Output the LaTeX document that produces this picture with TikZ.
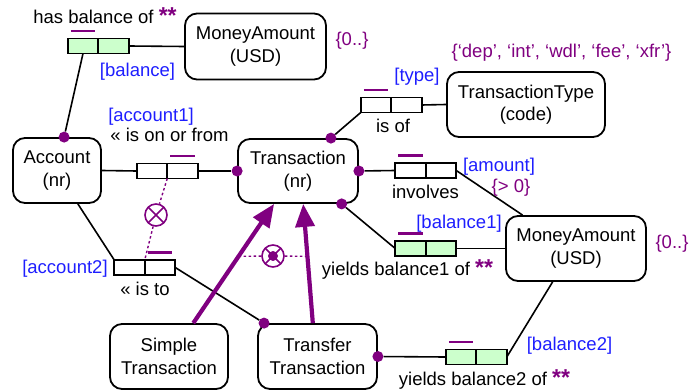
\documentclass[tikz,border=0pt]{standalone}
\usepackage{fontspec}
\setmainfont{Liberation Sans}
\usetikzlibrary{positioning,arrows.meta}

\definecolor{ormpurple}{RGB}{128,0,128}
\definecolor{ormblue}{RGB}{30,30,255}
\definecolor{rolegreen}{RGB}{204,255,204}

% uniqueness bar over one role box
\newcommand{\uniq}[1]{\draw[ubar] ([xshift=3pt,yshift=7.5pt]#1.north west) -- ([xshift=-3pt,yshift=7.5pt]#1.north east);}
% purple double asterisk
\newcommand{\stars}{\textcolor{ormpurple}{\fontsize{23}{22}\selectfont\textbf{**}}}

\begin{document}
\begin{tikzpicture}[x=1pt,y=-1pt,
    font=\fontsize{18.5}{22.5}\selectfont,
    entity/.style = {draw, rounded corners=12pt, line width=1.8pt, align=center, inner sep=0pt},
    role/.style = {draw, line width=1.7pt, minimum width=30.5pt, minimum height=15pt, inner sep=0pt, outer sep=0pt},
    vrole/.style = {role, fill=rolegreen},
    rdot/.style = {circle, fill=ormpurple, minimum size=11pt, inner sep=0pt},
    ubar/.style = {ormpurple, line width=2.2pt},
    link/.style = {line width=1.6pt},
    xlink/.style = {ormpurple, line width=1.4pt, dash pattern=on 2.5pt off 2.5pt},
    lbl/.style = {anchor=base, inner sep=0pt},
    rname/.style = {lbl, text=ormblue},
    cons/.style = {lbl, text=ormpurple},
    subtype/.style = {ormpurple, line width=4.2pt, -{Triangle[length=23pt,width=19pt]}},
    exclusion/.style = {circle, draw=ormpurple, fill=white, line width=1.6pt, minimum size=22pt, inner sep=0pt,
        path picture={\draw[ormpurple,line width=1.6pt] (path picture bounding box.north west) -- (path picture bounding box.south east)
            (path picture bounding box.north east) -- (path picture bounding box.south west);}},
    exclusiveor/.style = {circle, draw=ormpurple, fill=white, line width=1.6pt, minimum size=22pt, inner sep=0pt,
        path picture={\draw[ormpurple,line width=1.6pt] (path picture bounding box.north west) -- (path picture bounding box.south east)
            (path picture bounding box.north east) -- (path picture bounding box.south west);
            \fill[ormpurple] (path picture bounding box.center) circle (5pt);}}]

\useasboundingbox (0,0) rectangle (692,390);

% object types
\node[entity, minimum width=141pt, minimum height=66pt] (moneyA) at (255.5,46.5) {MoneyAmount\\(USD)};
\node[entity, minimum width=158pt, minimum height=65pt] (ttype) at (526,104.5) {TransactionType\\(code)};
\node[entity, minimum width=88pt, minimum height=65pt] (acc) at (57,170.5) {Account\\(nr)};
\node[entity, minimum width=120pt, minimum height=64pt] (trans) at (298,171) {Transaction\\(nr)};
\node[entity, minimum width=140pt, minimum height=65pt] (moneyB) at (576,248.5) {MoneyAmount\\(USD)};
\node[entity, minimum width=118pt, minimum height=65pt] (simple) at (169,356.5) {Simple\\Transaction};
\node[entity, minimum width=119pt, minimum height=65pt] (transfer) at (317.5,356.5) {Transfer\\Transaction};

% fact types
\node[vrole] (hb1) at (83,46) {};
\node[vrole, right=0pt of hb1] (hb2) {};
\node[role] (hf1) at (152,171) {};
\node[role, right=0pt of hf1] (hf2) {};
\node[role] (it1) at (129.5,267.5) {};
\node[role, right=0pt of it1] (it2) {};
\node[role] (io1) at (376,105) {};
\node[role, right=0pt of io1] (io2) {};
\node[role] (iv1) at (410.5,170.5) {};
\node[role, right=0pt of iv1] (iv2) {};
\node[vrole] (yb1) at (410.5,248.5) {};
\node[vrole, right=0pt of yb1] (yb2) {};
\node[vrole] (yc1) at (461,357) {};
\node[vrole, right=0pt of yc1] (yc2) {};

\uniq{hb1} \uniq{hf2} \uniq{it2} \uniq{io1} \uniq{iv1} \uniq{yb1} \uniq{yc1}

% mandatory dots
\node[rdot] (dAcc) at (acc.78) {};
\node[rdot] (dTransL) at (trans.west) {};
\node[rdot] (dTransT) at (trans.45) {};
\node[rdot] (dTransR) at (trans.east) {};
\node[rdot] (dTransB) at (trans.-37) {};
\node[rdot] (dTransferL) at (transfer.148) {};
\node[rdot] (dTransferR) at (transfer.east) {};

% role connectors
\draw[link] (hb1.south) -- (dAcc);
\draw[link] (hb2.east) -- (moneyA.west);
\draw[link] (acc.east) -- (hf1.west);
\draw[link] (hf2.east) -- (dTransL);
\draw[link] (acc.-58) -- (it1.north west);
\draw[link] (it2.east) -- (dTransferL);
\draw[link] (dTransT) -- (io1.south west);
\draw[link] (io2.east) -- (ttype.west);
\draw[link] (dTransR) -- (iv1.west);
\draw[link] (iv2.east) -- (moneyB.148);
\draw[link] (dTransB) -- (yb1.west);
\draw[link] (yb2.east) -- (moneyB.west);
\draw[link] (dTransferR) -- (yc1.west);
\draw[link] (yc2.east) -- (moneyB.-125);

% exclusion between account roles
\node[exclusion] (ex1) at (156,215) {};
\draw[xlink] (hf1.south east) -- (ex1) -- (it1.north east);

% subtypes
\draw[subtype] (simple.54) -- (trans.-126);
\draw[subtype] (transfer.98) -- (trans.-81);
\path (simple.54) -- (trans.-126) coordinate[pos=0.56] (sa);
\path (transfer.98) -- (trans.-81) coordinate[pos=0.56] (ta);
\node[exclusiveor] (xo) at (273,256) {};
\draw[xlink] (sa) -- (xo) -- (ta);

% readings, role names and value constraints
\node[lbl] (hbTxt) at (105,24) {has balance of \stars};
\node[rname] (balTxt) at (137.5,77) {[balance]};
\node[cons] (valA) at (352,46) {\{0..\}};
\node[cons] (valT) at (561.5,58) {\{‘dep’, ‘int’, ‘wdl’, ‘fee’, ‘xfr’\}};
\node[rname] (typeTxt) at (417,82) {[type]};
\node[lbl] (ioTxt) at (393,132) {is of};
\node[rname] (a1Txt) at (151,122) {[account1]};
\node[lbl] (hfTxt) at (169.5,142) {« is on or from};
\node[rname] (a2Txt) at (65,273) {[account2]};
\node[lbl] (itTxt) at (145,295) {« is to};
\node[lbl] (ivTxt) at (425.5,198) {involves};
\node[rname] (amTxt) at (499,171) {[amount]};
\node[cons] (valAm) at (511,192) {\{> 0\}};
\node[rname] (b1Txt) at (459,228) {[balance1]};
\node[lbl] (ybTxt) at (407.5,275) {yields balance1 of \stars};
\node[cons] (valB) at (672,248) {\{0..\}};
\node[rname] (b2Txt) at (569.5,350) {[balance2]};
\node[lbl] (ycTxt) at (484.5,385) {yields balance2 of \stars};
\end{tikzpicture}
\end{document}
